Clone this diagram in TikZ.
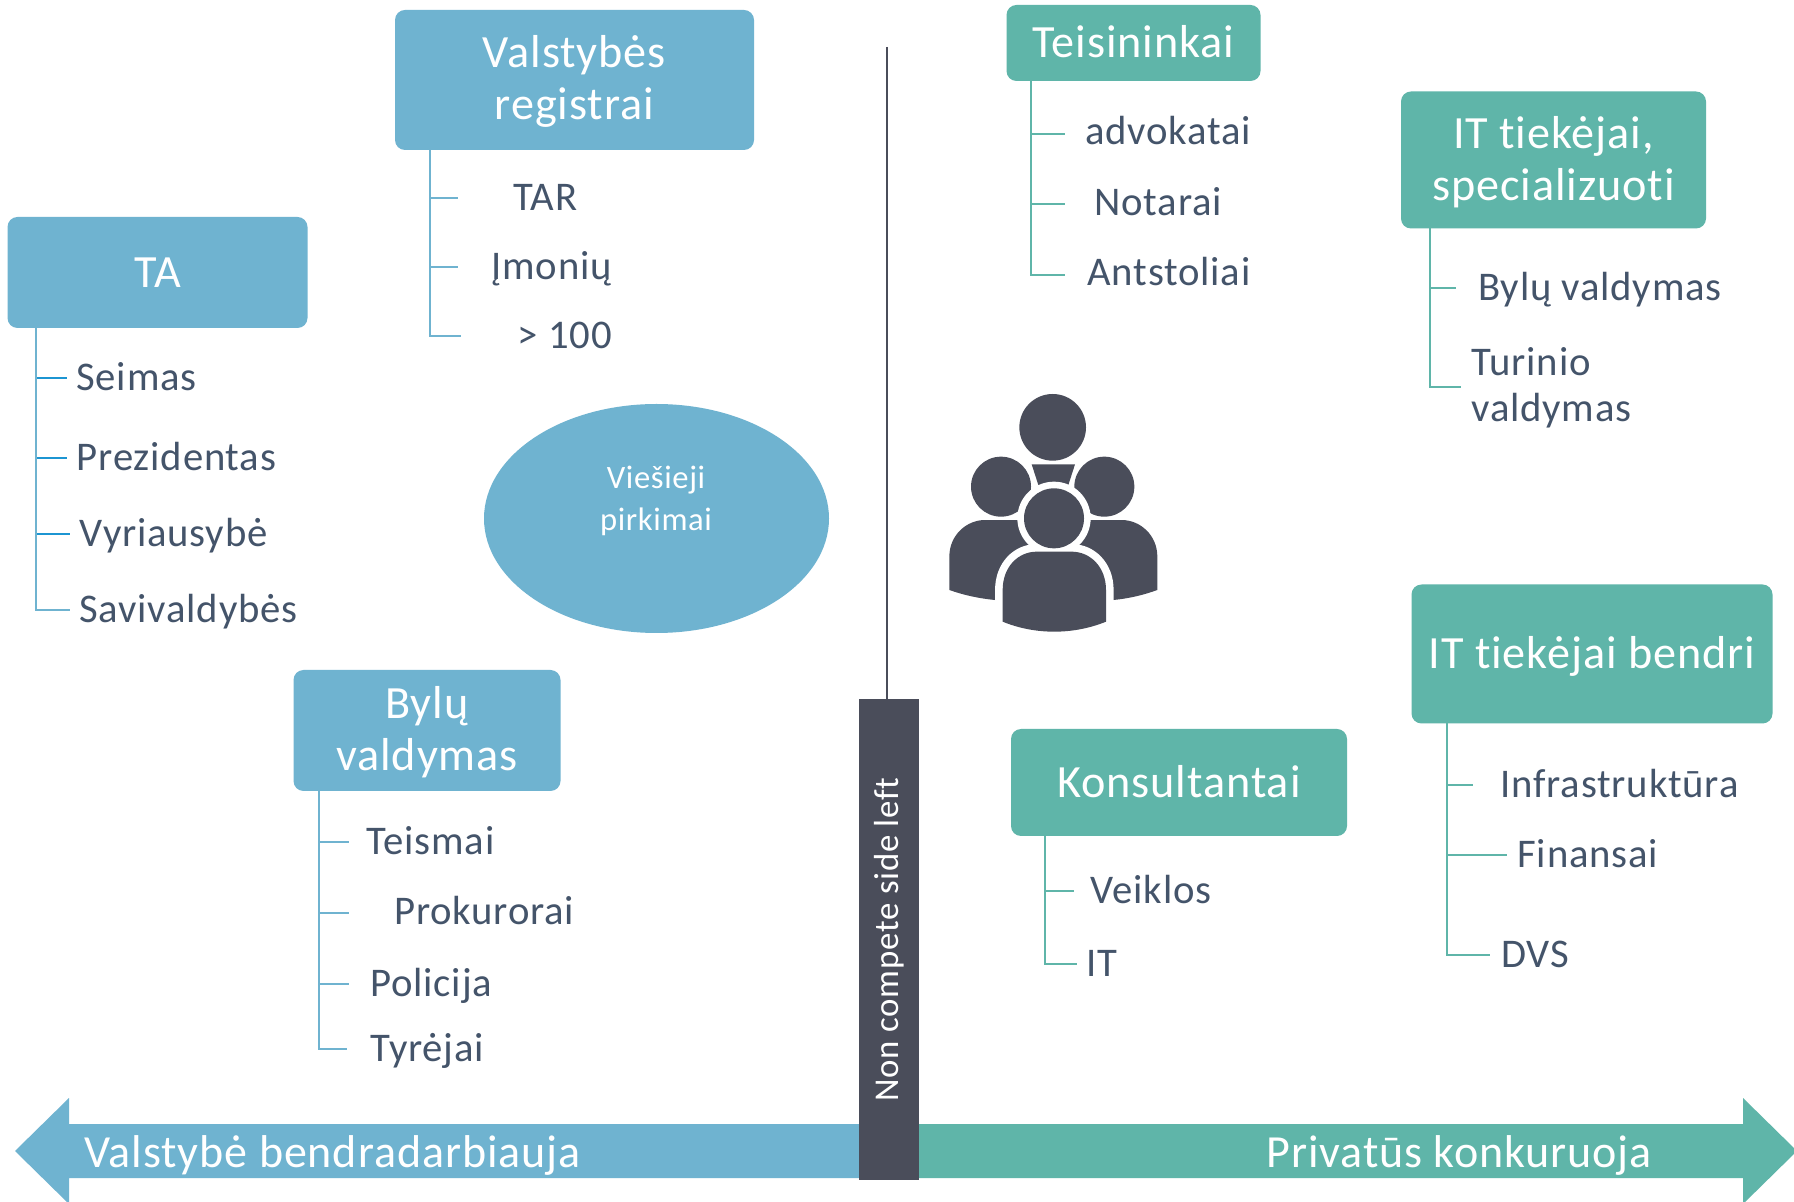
\documentclass[tikz,border=0pt]{standalone}
\usepackage{fontspec}
\setmainfont{Carlito}
\newfontfamily\itemfont[LetterSpace=2,Ligatures=NoCommon]{Carlito}
\definecolor{skyb}{HTML}{6FB3D0}
\definecolor{teal1}{HTML}{5FB5A9}
\definecolor{slate1}{HTML}{4A4D5A}
\definecolor{ink}{HTML}{44546A}
\definecolor{tickb}{HTML}{1C95D2}
\tikzset{
  boxb/.style={fill=skyb,rounded corners=5pt,text=white,align=center,inner sep=0pt,font=\itemfont\fontsize{23.1}{26}\selectfont},
  boxg/.style={boxb,fill=teal1},
  itm/.style={anchor=west,inner sep=0pt,yshift=-3.2pt,text=ink,font=\itemfont\fontsize{20.35}{23}\selectfont,text height=.62em,text depth=0pt,align=left},
  tb/.style={draw=skyb,line width=1.25pt},
  tg/.style={draw=teal1,line width=1.25pt},
  tk/.style={draw=tickb,line width=1.25pt},
}
% name, trunk coordinate, tick style, tick end x, tick y, text x, text y, text
\newcommand{\titem}[8]{%
  \node[itm] (#1) at (#6,#7) {#8};
  \coordinate (#1e) at (#4,#5);
  \draw[#3] (#2 |- #1e) -- (#1e);
}
\newcommand{\nudge}[2]{\raisebox{#1}[\height][\depth]{#2}}
\newcommand{\twolines}[3]{\nudge{#1}{\begin{tabular}{@{}c@{}}#2\\[.2pt]#3\end{tabular}}}
\begin{document}
\begin{tikzpicture}[x=0.5pt,y=-0.5pt]
\clip (0,0) rectangle (1794,1202);
\fill[white] (0,0) rectangle (1794,1202);

% Bottom arrows
\fill[skyb] (859,1124) -- (69,1124) -- (69,1098) -- (15,1151) -- (69,1204) -- (69,1178) -- (859,1178) -- cycle;
\fill[teal1] (919,1124) -- (1743,1124) -- (1743,1098) -- (1797,1151) -- (1743,1204) -- (1743,1178) -- (919,1178) -- cycle;

% Divider
\coordinate (divtop) at (887,47);
\node[fill=slate1,minimum width=30pt,minimum height=240.5pt,inner sep=0pt,text=white,font=\itemfont\fontsize{17.4}{20}\selectfont] (bar) at (889,939.5) {\rotatebox{90}{Non compete side left}};
\draw[slate1,line width=.8pt] (divtop) -- (divtop |- bar.north);

\node[anchor=west,text=white,inner sep=0pt,font=\itemfont\fontsize{23}{26}\selectfont] (vb) at (84,1155.5) {Valstybė bendradarbiauja};
\node[anchor=west,text=white,inner sep=0pt,font=\itemfont\fontsize{23}{26}\selectfont] (pk) at (1266,1155) {Privatūs konkuruoja};

% TA
\node[boxb,minimum width=150pt,minimum height=55.5pt] (ta) at (157.5,272.5) {TA};
\coordinate (taS) at (36,328);
\titem{seimas}{taS}{tk}{67}{378}{76}{378}{Seimas}
\titem{prez}{taS}{tk}{67}{458}{76.5}{458}{Prezidentas}
\titem{vyr}{taS}{tk}{70}{534}{79.5}{534}{Vyriausybė}
\node[itm] (sav) at (79,610) {Savivaldybės};
\coordinate (save) at (70,610);
\draw[tb] (taS) -- (taS |- save) -- (save);

% Valstybes registrai
\node[boxb,minimum width=179.5pt,minimum height=70pt] (vr) at (574.5,80) {\twolines{-1.6pt}{Valstybės}{registrai}};
\coordinate (vrS) at (430,150);
\titem{tar}{vrS}{tb}{458}{198}{513}{198}{TAR}
\titem{imon}{vrS}{tb}{458}{267}{491}{267}{Įmonių}
\node[itm] (hun) at (517.5,336) {> 100};
\coordinate (hune) at (461,336);
\draw[tb] (vrS) -- (vrS |- hune) -- (hune);

% Ellipse
\draw[fill=skyb,draw=none] (656.5,518.5) ellipse [x radius=172.5,y radius=114.5];
\node[text=white,align=center,inner sep=0pt,font=\itemfont\fontsize{16.3}{21}\selectfont] (vp) at (656,500.5) {Viešieji\\pirkimai};

% Bylu valdymas
\node[boxb,minimum width=133.5pt,minimum height=60.5pt] (bv) at (427,730.5) {\twolines{-1.7pt}{Bylų}{valdymas}};
\coordinate (bvS) at (319,791);
\titem{teis}{bvS}{tb}{349}{842}{366}{842}{Teismai}
\titem{prok}{bvS}{tb}{349}{913}{394}{912}{Prokurorai}
\titem{pol}{bvS}{tb}{349}{984}{370}{984}{Policija}
\node[itm] (tyr) at (370,1049) {Tyrėjai};
\coordinate (tyre) at (347,1049);
\draw[tb] (bvS) -- (bvS |- tyre) -- (tyre);

% Teisininkai
\node[boxg,minimum width=127pt,minimum height=38pt] (tei) at (1133.5,43) {\nudge{.5pt}{Teisininkai}};
\coordinate (teiS) at (1031,81);
\titem{adv}{teiS}{tg}{1065}{134}{1085}{132}{advokatai}
\titem{not}{teiS}{tg}{1065}{204}{1094}{203}{Notarai}
\node[itm] (ant) at (1087,273) {Antstoliai};
\coordinate (ante) at (1065,275);
\draw[tg] (teiS) -- (teiS |- ante) -- (ante);

% IT specializuoti
\node[boxg,minimum width=152.5pt,minimum height=68.5pt] (its) at (1553.5,160) {\twolines{-2pt}{IT tiekėjai,}{specializuoti}};
\coordinate (itsS) at (1430,228);
\titem{byl}{itsS}{tg}{1456}{288}{1478}{288}{Bylų valdymas}
\node[itm] (tur1) at (1471,363) {Turinio};
\node[itm] (tur2) at (1471,409) {valdymas};
\coordinate (ture) at (1461,387);
\draw[tg] (itsS) -- (itsS |- ture) -- (ture);

% IT bendri
\node[boxg,minimum width=180.5pt,minimum height=69.5pt] (itb) at (1592,654) {\nudge{-1.2pt}{IT tiekėjai bendri}};
\coordinate (itbS) at (1447,723);
\titem{inf}{itbS}{tg}{1473}{785}{1500}{785}{Infrastruktūra}
\titem{fin}{itbS}{tg}{1507}{855}{1517}{855}{Finansai}
\node[itm] (dvs) at (1501,955) {DVS};
\coordinate (dvse) at (1490,955);
\draw[tg] (itbS) -- (itbS |- dvse) -- (dvse);

% Konsultantai
\node[boxg,minimum width=168pt,minimum height=53.5pt] (kon) at (1179,782.5) {\nudge{.5pt}{Konsultantai}};
\coordinate (konS) at (1045,835);
\titem{vei}{konS}{tg}{1074}{891}{1090.5}{891}{Veiklos}
\node[itm] (itk) at (1086,964) {IT};
\coordinate (itke) at (1077,964);
\draw[tg] (konS) -- (konS |- itke) -- (itke);

% People icon
\begin{scope}[shift={(920,370)},x=0.16667pt,y=-0.16667pt]
  \fill[slate1] (398,172) circle [radius=100];
  \fill[slate1] (243,350) circle [radius=90];
  \fill[slate1] (553,350) circle [radius=90];
  \fill[slate1] (335,283) -- (465,283) -- (445,345) -- (355,345) -- cycle;
  \fill[slate1] (88,660) -- (88,560) .. controls (88,495) and (140,450) .. (195,450) -- (300,450) -- (400,560) -- (225,690) .. controls (175,685) and (130,675) .. (88,660) -- cycle;
  \fill[slate1] (712,660) -- (712,560) .. controls (712,495) and (660,450) .. (605,450) -- (500,450) -- (400,560) -- (580,690) .. controls (630,685) and (670,675) .. (712,660) -- cycle;
  \fill[white] (402,445) circle [radius=110];
  \fill[slate1,preaction={draw=white,line width=7.6pt}] (248,755) -- (248,660) .. controls (248,590) and (295,545) .. (350,545) -- (455,545) .. controls (510,545) and (558,590) .. (558,660) -- (558,755) .. controls (460,795) and (345,795) .. (248,755) -- cycle;
  \fill[slate1] (402,445) circle [radius=90];
\end{scope}
\end{tikzpicture}
\end{document}
